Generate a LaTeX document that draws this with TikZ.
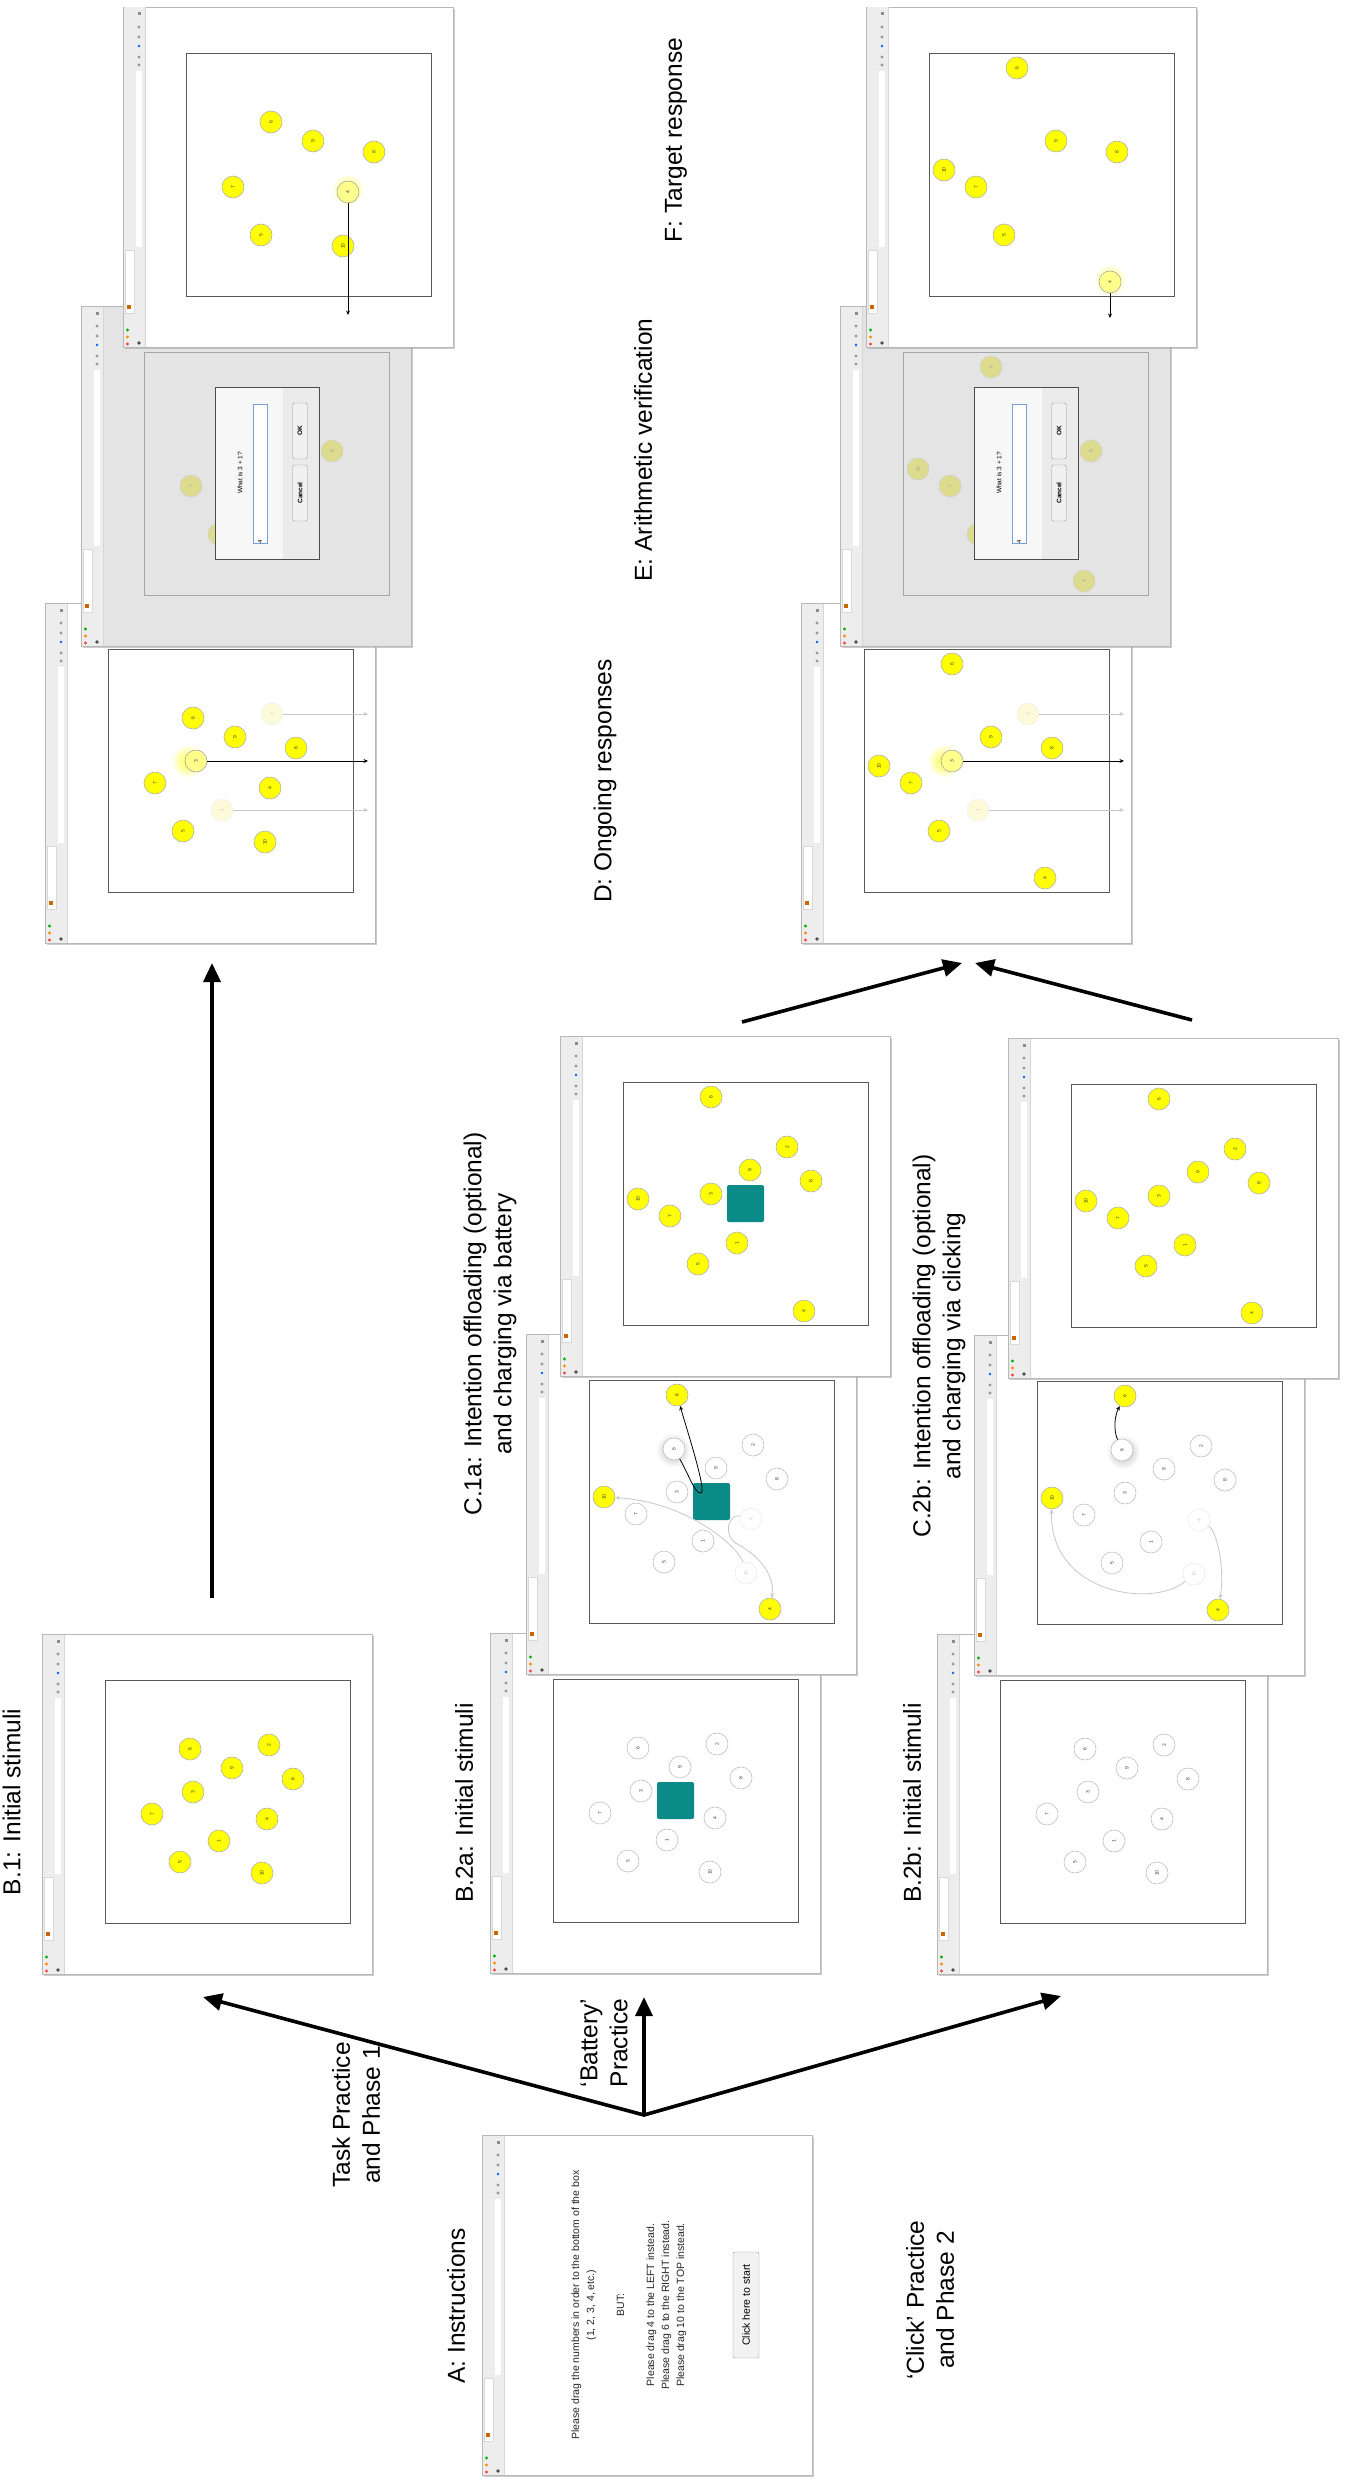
\documentclass[tikz,border=0pt]{standalone}
\usepackage{fontspec}
\setmainfont{Liberation Sans}
\usetikzlibrary{arrows.meta,calc,shadows}
\definecolor{cyel}{HTML}{FFFF00}
\definecolor{bat}{HTML}{0B8B88}
\definecolor{efade}{HTML}{DCDB8E}
\definecolor{egray}{HTML}{E4E4E4}
\definecolor{dfade}{HTML}{FCFAD8}
\tikzset{
  every node/.style={inner sep=0pt},
  winbox/.style={draw=black!28, fill=white, line width=0.8pt, minimum width=330pt, minimum height=340pt, anchor=north west, drop shadow={shadow xshift=1.8pt, shadow yshift=-1.8pt, opacity=0.5, fill=black!40}},
  inbox/.style={draw=black!65, line width=1.3pt, fill=white, minimum width=245pt, minimum height=243pt, anchor=north west},
  einbox/.style={inbox, fill=egray, draw=black!35},
  yc/.style={circle, draw=black!30, fill=cyel, line width=0.6pt, minimum size=22pt, font=\fontsize{5}{5}\selectfont, text=black!75, rotate=90},
  wc/.style={yc, fill=white, draw=black!25},
  fwc/.style={yc, fill=white, draw=black!8, text=black!20},
  dfc/.style={yc, fill=dfade, draw=black!5, text=black!20},
  gc/.style={yc, fill=cyel!45!white, draw=black!35},
  ec/.style={yc, fill=efade, draw=black!18, text=black!35},
  lab/.style={rotate=90, font=\fontsize{24.5}{30}\selectfont, align=center},
  bigarr/.style={line width=3.6pt, -{Triangle[length=19pt,width=17pt]}},
  sarr/.style={line width=0.8pt, -{Stealth[length=4.5pt,width=4pt]}},
  garr/.style={sarr, draw=black!22},
  sq/.style={rectangle, fill=bat, rounded corners=2pt, minimum size=37pt, draw=none},
  btn/.style={draw=black!40, fill=black!6, rounded corners=1.5pt, rotate=90, font=\fontsize{6.5}{7}\selectfont\bfseries},
}
\newcommand{\chrome}[2]{%
\begin{scope}[shift={(#1,#2)}]
 \fill[black!7] (0.5,0.5) rectangle (22,339.5);
 \draw[black!16, line width=0.5pt] (22,0.5) -- (22,339.5);
 \fill[white] (12.5,64) rectangle (18.5,240);
 \fill[white] (2,243) rectangle (11,306);
 \draw[black!15,line width=0.3pt] (2,243) rectangle (11,306);
 \fill[black!45] (14.5,5.5) rectangle (17.5,8.5);
 \fill[black!40] (16,20) circle (1.6);
 \fill[black!40] (16,30) circle (1.6);
 \fill[black!40] (16,50) circle (1.6);
 \fill[black!40] (16,58) circle (1.6);
 \fill[blue!60!cyan] (16,39) circle (1.3);
 \fill[green!70!black] (4.5,323) circle (1.7);
 \fill[orange!90!yellow] (4.5,330) circle (1.7);
 \fill[red!75] (4.5,337) circle (1.7);
 \fill[black!70] (16,336) circle (1.8);
 \fill[orange!80!black] (4,298) rectangle (8,302);
\end{scope}}
\newcommand{\cc}[4]{\node[#1] (#2) at (#3) {#4};}
\newcommand{\glowat}[2]{\shade[inner color=cyel!75, outer color=white] (#1) circle (#2);}
\begin{document}
\begin{tikzpicture}[x=1pt,y=-1pt]
\useasboundingbox (0,0) rectangle (1347,2481);
\fill[white] (0,0) rectangle (1347,2481);

% ================= B.1 =================
\node[winbox] (wB1) at (42,1634) {};
\chrome{42}{1634}
\node[inbox] (iB1) at (105,1680) {};
\begin{scope}[shift={(105,1680)}]
 \cc{yc}{b1n6}{85,69}{6} \cc{yc}{b1n2}{164,65}{2} \cc{yc}{b1n9}{127,88}{9}
 \cc{yc}{b1n8}{188,99}{8} \cc{yc}{b1n3}{88,112}{3} \cc{yc}{b1n7}{47,134}{7}
 \cc{yc}{b1n4}{162,139}{4} \cc{yc}{b1n1}{114,161}{1} \cc{yc}{b1n5}{75,182}{5}
 \cc{yc}{b1n10}{157,193}{10}
\end{scope}

% ================= D1 =================
\node[winbox] (wD1) at (45,603) {};
\chrome{45}{603}
\node[inbox] (iD1) at (108,649) {};
\begin{scope}[shift={(108,649)}]
 \cc{yc}{d1n6}{85,69}{6} \cc{yc}{d1n9}{127,88}{9}
 \cc{yc}{d1n8}{188,99}{8} \cc{yc}{d1n7}{47,134}{7}
 \cc{yc}{d1n4}{162,139}{4} \cc{yc}{d1n5}{75,182}{5}
 \cc{yc}{d1n10}{157,193}{10}
 \cc{dfc}{d1n2}{164,65}{2} \cc{dfc}{d1n1}{114,161}{1}
 \glowat{80,112}{17}
 \cc{gc}{d1n3}{88,112}{3}
 \coordinate (d1t2) at (260,65); \coordinate (d1t1) at (260,161); \coordinate (d1t3) at (260,112);
 \draw[garr] (d1n2) -- (d1t2);
 \draw[garr] (d1n1) -- (d1t1);
 \draw[sarr] (d1n3) -- (d1t3);
\end{scope}

% ================= E1 =================
\node[winbox, fill=egray] (wE1) at (81,306) {};
\chrome{81}{306}
\node[einbox] (iE1) at (144,352) {};
\begin{scope}[shift={(144,352)}]
 \cc{ec}{e1n6}{85,69}{6} \cc{ec}{e1n9}{127,88}{9}
 \cc{ec}{e1n8}{188,99}{8} \cc{ec}{e1n7}{47,134}{7}
 \cc{ec}{e1n4}{162,139}{4} \cc{ec}{e1n5}{75,182}{5}
 \cc{ec}{e1n10}{157,193}{10}
 \node[draw=black!70, fill=black!3, line width=0.8pt, minimum width=104pt, minimum height=172pt, anchor=north west] (e1dlg) at (71,35) {};
 \fill[black!8] (139,35.5) rectangle (174.5,206.5);
 \node[rotate=90, font=\fontsize{6.5}{7}\selectfont] (e1q) at (96,121) {What is 3 + 1?};
 \node[draw=cyan!50!blue!55, fill=white, line width=0.8pt, minimum width=14pt, minimum height=139pt, anchor=north west] (e1in) at (109,52) {};
 \node[rotate=90, font=\fontsize{6}{6}\selectfont] (e1v) at (116,190) {4};
 \node[btn, minimum width=56pt, minimum height=14.5pt] (e1ok) at (156,79) {OK};
 \node[btn, minimum width=56pt, minimum height=14.5pt] (e1cn) at (156,141) {Cancel};
\end{scope}

% ================= F1 =================
\node[winbox] (wF1) at (123,7) {};
\chrome{123}{7}
\node[inbox] (iF1) at (186,53) {};
\begin{scope}[shift={(186,53)}]
 \cc{yc}{f1n6}{85,69}{6} \cc{yc}{f1n9}{127,88}{9}
 \cc{yc}{f1n8}{188,99}{8} \cc{yc}{f1n7}{47,134}{7}
 \cc{yc}{f1n5}{75,182}{5} \cc{yc}{f1n10}{157,193}{10}
 \glowat{162,137}{16}
 \cc{gc}{f1n4}{162,139}{4}
 \coordinate (f1t4) at (162,262);
 \draw[sarr] (f1n4) -- (f1t4);
\end{scope}

% ================= A =================
\node[winbox] (wA) at (482,2135) {};
\chrome{482}{2135}
\node[rotate=90, align=center, font=\fontsize{10.5}{15}\selectfont, text=black!85] (atext) at (629,2305)
 {Please drag the numbers in order to the bottom of the box\\(1, 2, 3, 4, etc.)\\[15pt]BUT:\\[15pt]Please drag 4 to the LEFT instead.\\Please drag 6 to the RIGHT instead.\\Please drag 10 to the TOP instead.};
\node[draw=black!40, fill=black!5, rounded corners=2pt, rotate=90, minimum width=106pt, minimum height=26pt, font=\fontsize{10.5}{12}\selectfont] (abtn) at (746,2305) {Click here to start};

% ================= B.2a =================
\node[winbox] (wB2a) at (490,1633) {};
\chrome{490}{1633}
\node[inbox] (iB2a) at (553,1679) {};
\begin{scope}[shift={(553,1679)}]
 \node[sq] (b2asq) at (122.5,121.5) {};
 \cc{wc}{b2an6}{85,69}{6} \cc{wc}{b2an2}{164,65}{2} \cc{wc}{b2an9}{127,88}{9}
 \cc{wc}{b2an8}{188,99}{8} \cc{wc}{b2an3}{88,112}{3} \cc{wc}{b2an7}{47,134}{7}
 \cc{wc}{b2an4}{162,139}{4} \cc{wc}{b2an1}{114,161}{1} \cc{wc}{b2an5}{75,182}{5}
 \cc{wc}{b2an10}{157,193}{10}
\end{scope}

% ================= C.1a middle =================
\node[winbox] (wC1m) at (526,1334) {};
\chrome{526}{1334}
\node[inbox] (iC1m) at (589,1380) {};
\begin{scope}[shift={(589,1380)}]
 \node[sq] (c1msq) at (122.5,121.5) {};
 \cc{wc}{c1mn2}{164,65}{2} \cc{wc}{c1mn9}{127,88}{9}
 \cc{wc}{c1mn8}{188,99}{8} \cc{wc}{c1mn3}{88,112}{3} \cc{wc}{c1mn7}{47,134}{7}
 \cc{wc}{c1mn1}{114,161}{1} \cc{wc}{c1mn5}{75,182}{5}
 \cc{fwc}{c1mf4}{162,139}{4} \cc{fwc}{c1mf10}{157,193}{10}
 \shade[inner color=black!30, outer color=white] (84,70) circle (17);
 \cc{wc}{c1mw6}{85,69}{6}
 \cc{yc}{c1my6}{88,15}{6} \cc{yc}{c1my10}{15,117}{10} \cc{yc}{c1my4}{181,229}{4}
 \draw[sarr] (c1mw6) .. controls (100,95) and (106,114) .. (112,113) .. controls (118,112) and (98,50) .. (c1my6);
 \draw[garr] (c1mf10) .. controls (150,168) and (100,122) .. (c1my10);
 \draw[garr] (c1mf4) .. controls (140,133) and (132,156) .. (150,165) .. controls (170,176) and (186,195) .. (c1my4);
\end{scope}

% ================= C.1a front =================
\node[winbox] (wC1f) at (560,1036) {};
\chrome{560}{1036}
\node[inbox] (iC1f) at (623,1082) {};
\begin{scope}[shift={(623,1082)}]
 \node[sq] (c1fsq) at (122.5,121.5) {};
 \cc{yc}{c1fn2}{164,65}{2} \cc{yc}{c1fn9}{127,88}{9}
 \cc{yc}{c1fn8}{188,99}{8} \cc{yc}{c1fn3}{88,112}{3} \cc{yc}{c1fn7}{47,134}{7}
 \cc{yc}{c1fn1}{114,161}{1} \cc{yc}{c1fn5}{75,182}{5}
 \cc{yc}{c1fn6}{88,15}{6} \cc{yc}{c1fn10}{15,117}{10} \cc{yc}{c1fn4}{181,229}{4}
\end{scope}

% ================= B.2b =================
\node[winbox] (wB2b) at (937,1634) {};
\chrome{937}{1634}
\node[inbox] (iB2b) at (1000,1680) {};
\begin{scope}[shift={(1000,1680)}]
 \cc{wc}{b2bn6}{85,69}{6} \cc{wc}{b2bn2}{164,65}{2} \cc{wc}{b2bn9}{127,88}{9}
 \cc{wc}{b2bn8}{188,99}{8} \cc{wc}{b2bn3}{88,112}{3} \cc{wc}{b2bn7}{47,134}{7}
 \cc{wc}{b2bn4}{162,139}{4} \cc{wc}{b2bn1}{114,161}{1} \cc{wc}{b2bn5}{75,182}{5}
 \cc{wc}{b2bn10}{157,193}{10}
\end{scope}

% ================= C.2b middle =================
\node[winbox] (wC2m) at (974,1335) {};
\chrome{974}{1335}
\node[inbox] (iC2m) at (1037,1381) {};
\begin{scope}[shift={(1037,1381)}]
 \cc{wc}{c2mn2}{164,65}{2} \cc{wc}{c2mn9}{127,88}{9}
 \cc{wc}{c2mn8}{188,99}{8} \cc{wc}{c2mn3}{88,112}{3} \cc{wc}{c2mn7}{47,134}{7}
 \cc{wc}{c2mn1}{114,161}{1} \cc{wc}{c2mn5}{75,182}{5}
 \cc{fwc}{c2mf4}{162,139}{4} \cc{fwc}{c2mf10}{157,193}{10}
 \shade[inner color=black!30, outer color=white] (86,71) circle (17);
 \cc{wc}{c2mw6}{85,69}{6}
 \cc{yc}{c2my6}{88,15}{6} \cc{yc}{c2my10}{15,117}{10} \cc{yc}{c2my4}{181,229}{4}
 \draw[sarr] (c2mw6) .. controls (76,48) and (78,34) .. (c2my6);
 \draw[garr] (c2mf10) .. controls (115,228) and (12,212) .. (c2my10);
 \draw[garr] (c2mf4) .. controls (180,150) and (188,188) .. (c2my4);
\end{scope}

% ================= C.2b front =================
\node[winbox] (wC2f) at (1008,1038) {};
\chrome{1008}{1038}
\node[inbox] (iC2f) at (1071,1084) {};
\begin{scope}[shift={(1071,1084)}]
 \cc{yc}{c2fn2}{164,65}{2} \cc{yc}{c2fn9}{127,88}{9}
 \cc{yc}{c2fn8}{188,99}{8} \cc{yc}{c2fn3}{88,112}{3} \cc{yc}{c2fn7}{47,134}{7}
 \cc{yc}{c2fn1}{114,161}{1} \cc{yc}{c2fn5}{75,182}{5}
 \cc{yc}{c2fn6}{88,15}{6} \cc{yc}{c2fn10}{15,117}{10} \cc{yc}{c2fn4}{181,229}{4}
\end{scope}

% ================= D2 =================
\node[winbox] (wD2) at (801,603) {};
\chrome{801}{603}
\node[inbox] (iD2) at (864,649) {};
\begin{scope}[shift={(864,649)}]
 \cc{yc}{d2n9}{127,88}{9} \cc{yc}{d2n8}{188,99}{8} \cc{yc}{d2n7}{47,134}{7}
 \cc{yc}{d2n5}{75,182}{5}
 \cc{yc}{d2n6}{88,15}{6} \cc{yc}{d2n10}{15,117}{10} \cc{yc}{d2n4}{181,229}{4}
 \cc{dfc}{d2n2}{164,65}{2} \cc{dfc}{d2n1}{114,161}{1}
 \glowat{80,112}{17}
 \cc{gc}{d2n3}{88,112}{3}
 \coordinate (d2t2) at (260,65); \coordinate (d2t1) at (260,161); \coordinate (d2t3) at (260,112);
 \draw[garr] (d2n2) -- (d2t2);
 \draw[garr] (d2n1) -- (d2t1);
 \draw[sarr] (d2n3) -- (d2t3);
\end{scope}

% ================= E2 =================
\node[winbox, fill=egray] (wE2) at (840,306) {};
\chrome{840}{306}
\node[einbox] (iE2) at (903,352) {};
\begin{scope}[shift={(903,352)}]
 \cc{ec}{e2n9}{127,88}{9} \cc{ec}{e2n8}{188,99}{8} \cc{ec}{e2n7}{47,134}{7}
 \cc{ec}{e2n5}{75,182}{5}
 \cc{ec}{e2n6}{88,15}{6} \cc{ec}{e2n10}{15,117}{10} \cc{ec}{e2n4}{181,229}{4}
 \node[draw=black!70, fill=black!3, line width=0.8pt, minimum width=104pt, minimum height=172pt, anchor=north west] (e2dlg) at (71,35) {};
 \fill[black!8] (139,35.5) rectangle (174.5,206.5);
 \node[rotate=90, font=\fontsize{6.5}{7}\selectfont] (e2q) at (96,121) {What is 3 + 1?};
 \node[draw=cyan!50!blue!55, fill=white, line width=0.8pt, minimum width=14pt, minimum height=139pt, anchor=north west] (e2in) at (109,52) {};
 \node[rotate=90, font=\fontsize{6}{6}\selectfont] (e2v) at (116,190) {4};
 \node[btn, minimum width=56pt, minimum height=14.5pt] (e2ok) at (156,79) {OK};
 \node[btn, minimum width=56pt, minimum height=14.5pt] (e2cn) at (156,141) {Cancel};
\end{scope}

% ================= F2 =================
\node[winbox] (wF2) at (866,7) {};
\chrome{866}{7}
\node[inbox] (iF2) at (929,53) {};
\begin{scope}[shift={(929,53)}]
 \cc{yc}{f2n9}{127,88}{9} \cc{yc}{f2n8}{188,99}{8} \cc{yc}{f2n7}{47,134}{7}
 \cc{yc}{f2n5}{75,182}{5}
 \cc{yc}{f2n6}{88,15}{6} \cc{yc}{f2n10}{15,117}{10}
 \glowat{181,227}{16}
 \cc{gc}{f2n4}{181,229}{4}
 \coordinate (f2t4) at (181,265);
 \draw[sarr] (f2n4) -- (f2t4);
\end{scope}

% ================= labels =================
\node[lab] (labA) at (456,2306) {A: Instructions};
\node[lab] (labB1) at (11.5,1802) {B.1: Initial stimuli};
\node[lab] (labB2a) at (464,1803) {B.2a: Initial stimuli};
\node[lab] (labB2b) at (912,1803) {B.2b: Initial stimuli};
\node[lab] (labC1a) at (490,1324) {C.1a: Intention offloading (optional)\\and charging via battery};
\node[lab] (labC2b) at (939,1346) {C.2b: Intention offloading (optional)\\and charging via clicking};
\node[lab] (labD) at (605,781) {D: Ongoing responses};
\node[lab] (labE) at (643,450) {E: Arithmetic verification};
\node[lab] (labF) at (676,140) {F: Target response};
\node[lab] (labTask) at (356,2115) {Task Practice\\and Phase 1};
\node[lab] (labBat) at (604,2043) {‘Battery’\\Practice};
\node[lab] (labClick) at (930,2300) {‘Click’ Practice\\and Phase 2};

% ================= big arrows =================
\coordinate (J) at (644,2115);
\coordinate (tB1) at (203,1997);
\coordinate (tB2a) at (644,1997);
\coordinate (tB2b) at (1061,1996);
\draw[line width=3.6pt, line join=miter, {Triangle[length=19pt,width=17pt]}-{Triangle[length=19pt,width=17pt]}] (tB1) -- (J) -- (tB2b);
\draw[bigarr] (J) -- (tB2a);
\coordinate (b1s) at (212,1598);
\coordinate (b1t) at (212,963);
\draw[bigarr] (b1s) -- (b1t);
\coordinate (c1s) at (742,1022);
\coordinate (dtl) at (962,963);
\coordinate (c2s) at (1192,1020);
\coordinate (dtr) at (975,963);
\draw[bigarr] (c1s) -- (dtl);
\draw[bigarr] (c2s) -- (dtr);
\end{tikzpicture}
\end{document}
